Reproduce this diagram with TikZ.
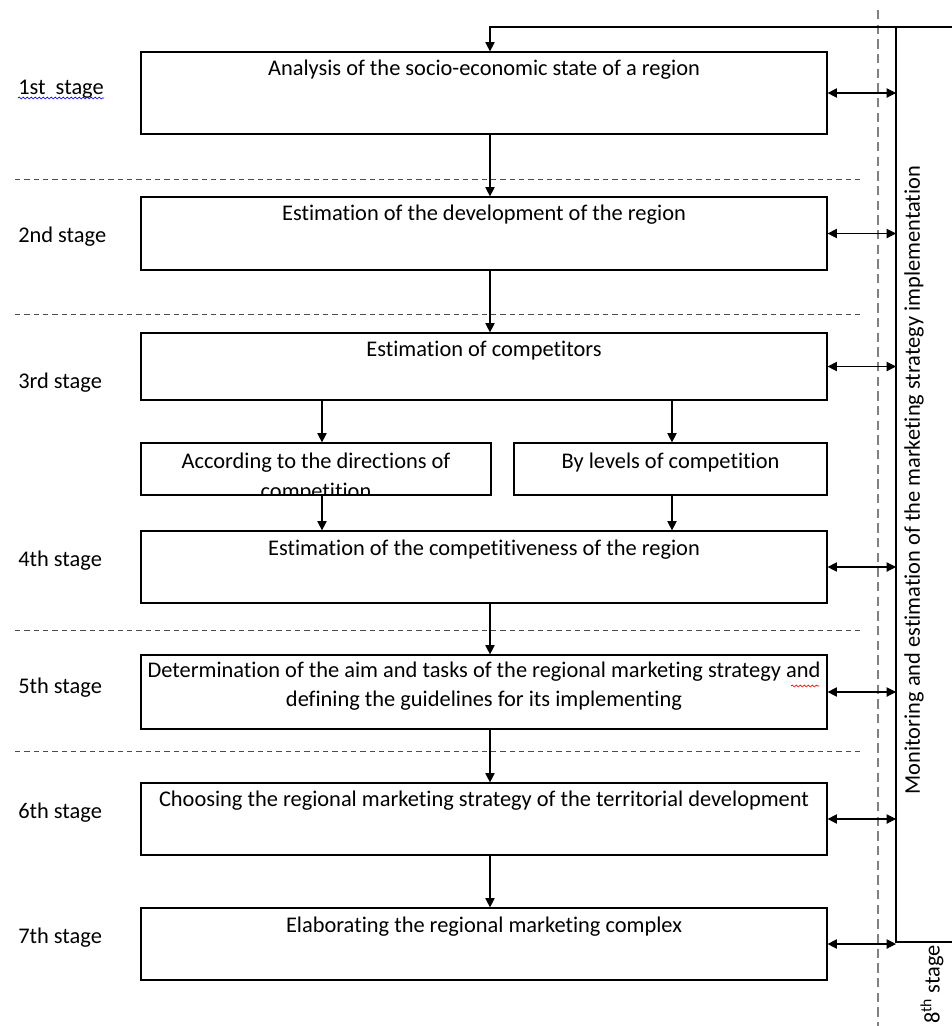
\documentclass[tikz,border=0pt]{standalone}
\usepackage{fontspec}
\setmainfont[Ligatures=NoCommon]{Carlito}
\usetikzlibrary{positioning,arrows.meta,decorations.pathmorphing}

\begin{document}
\begin{tikzpicture}[x=0.75pt,y=-0.75pt,
    every node/.style={font=\fontsize{16.8}{22}\selectfont},
    bigbox/.style={draw, line width=0.9pt, minimum width=514.5pt, inner sep=0pt},
    smallbox/.style={draw, line width=0.9pt, minimum height=39pt, inner sep=0pt},
    boxtext/.style={inner sep=1pt, align=center},
    stagelbl/.style={anchor=west, inner sep=0pt},
    flow/.style={-{Triangle[width=7pt,length=7pt]}, line width=0.8pt},
    both/.style={{Triangle[width=7pt,length=7pt]}-{Triangle[width=7pt,length=7pt]}, line width=0.8pt},
    sepline/.style={dash pattern=on 4pt off 3pt, line width=0.7pt, black!70},
    spell/.style={decorate, decoration={snake, amplitude=0.7pt, segment length=3pt}, line width=0.5pt}
    ]
    \useasboundingbox (0,0) rectangle (952,1026);
    \coordinate (spine) at (490,0);
    \coordinate (lft) at (322,0);
    \coordinate (rgt) at (672,0);
    \coordinate (montop) at (896,27);
    \coordinate (monbot) at (896,942);

    % boxes
    \node[bigbox, minimum height=61.5pt] (b1) at (484,93) {};
    \node[bigbox, minimum height=54.75pt] (b2) at (484,233.5) {};
    \node[bigbox, minimum height=50.25pt] (b3) at (484,366.5) {};
    \node[smallbox, minimum width=262.5pt] (b3a) at (316,469) {};
    \node[smallbox, minimum width=234.75pt] (b3b) at (670.5,469) {};
    \node[bigbox, minimum height=54pt] (b4) at (484,567) {};
    \node[bigbox, minimum height=55.5pt] (b5) at (484,692) {};
    \node[bigbox, minimum height=54pt] (b6) at (484,819) {};
    \node[bigbox, minimum height=54pt] (b7) at (484,944) {};

    % box texts
    \node[boxtext, below=5.5pt of b1.north] (t1) {Analysis of the socio-economic state of a region};
    \node[boxtext, below=5.5pt of b2.north] (t2) {Estimation of the development of the region};
    \node[boxtext, below=5.5pt of b3.north] (t3) {Estimation of competitors};
    \begin{scope}
        \clip (b3a.south west) rectangle (b3a.north east); %text runs out of the box
        \node[boxtext, below=7pt of b3a.north] (t3a) {According to the directions of\\competition};
    \end{scope}
    \node[boxtext, below=7pt of b3b.north] (t3b) {By levels of competition};
    \node[boxtext, below=6pt of b4.north] (t4) {Estimation of the competitiveness of the region};
    \node[boxtext, below=4.5pt of b5.north] (t5) {Determination of the aim and tasks of the regional marketing strategy and\\defining the guidelines for its implementing};
    \node[boxtext, below=5pt of b6.north] (t6) {Choosing the regional marketing strategy of the territorial development};
    \node[boxtext, below=6pt of b7.north] (t7) {Elaborating the regional marketing complex};

    % stage labels
    \node[stagelbl] (s1) at (18,89) {1st\ \ stage};
    \node[stagelbl] (s2) at (18,237) {2nd stage};
    \node[stagelbl] (s3) at (18,383) {3rd stage};
    \node[stagelbl] (s4) at (18,561) {4th stage};
    \node[stagelbl] (s5) at (18,688) {5th stage};
    \node[stagelbl] (s6) at (18,813) {6th stage};
    \node[stagelbl] (s7) at (18,938) {7th stage};
    \draw[spell, blue] (18,98) -- (104,98);
    \draw[spell, red] (791,686) -- (819,686);

    % stage separators
    \draw[sepline] (15,179) -- (862,179);
    \draw[sepline] (15,314) -- (862,314);
    \draw[sepline] (15,630) -- (862,630);
    \draw[sepline] (15,751) -- (862,751);
    \draw[gray, line width=1.3pt, dash pattern=on 7pt off 4pt] (878,10) -- (878,1026);

    % flow
    \draw[flow] (b1.south -| spine) -- (b2.north -| spine);
    \draw[flow] (b2.south -| spine) -- (b3.north -| spine);
    \draw[flow] (b3.south -| lft) -- (b3a.north -| lft);
    \draw[flow] (b3.south -| rgt) -- (b3b.north -| rgt);
    \draw[flow] (b3a.south -| lft) -- (b4.north -| lft);
    \draw[flow] (b3b.south -| rgt) -- (b4.north -| rgt);
    \draw[flow] (b4.south -| spine) -- (b5.north -| spine);
    \draw[flow] (b5.south -| spine) -- (b6.north -| spine);
    \draw[flow] (b6.south -| spine) -- (b7.north -| spine);

    % monitoring (8th stage)
    \draw[line width=0.8pt] (952,27) -- (montop) -- (monbot) -- (952,942);
    \draw[flow] (montop) -- (montop -| spine) -- (b1.north -| spine);
    \foreach \b in {b1,b2,b3,b4,b5,b6,b7}
        \draw[both] (\b.east) -- (\b.east -| montop);
    \node[rotate=90] (mon) at (914,480) {Monitoring and estimation of the marketing strategy implementation};
    \node[rotate=90, anchor=west, inner sep=0pt] (s8) at (932,1024) {8\textsuperscript{th} stage};
\end{tikzpicture}
\end{document}
